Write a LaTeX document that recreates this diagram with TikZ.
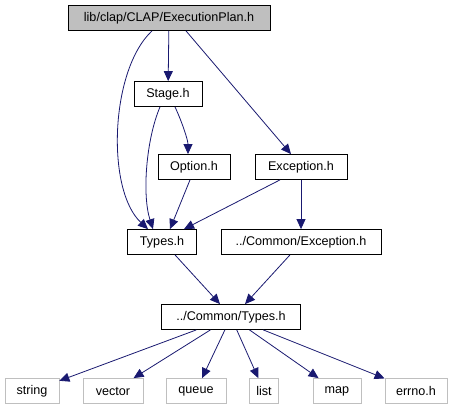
\documentclass[tikz,border=0pt]{standalone}
\usepackage{fontspec}
\setmainfont{Liberation Sans}
\usetikzlibrary{arrows.meta,positioning}
\definecolor{edge}{HTML}{191970}
\definecolor{boxgrey}{HTML}{BFBFBF}
\definecolor{sysline}{HTML}{BFBFBF}

\begin{document}
\begin{tikzpicture}[x=1pt,y=-1pt,
  file/.style={draw=black,line width=0.8pt,minimum height=25pt,inner sep=0pt,font=\fontsize{12.6}{14}\selectfont},
  sys/.style={file,draw=sysline},
  dep/.style={edge,line width=0.8pt,-{Triangle[length=10pt,width=9pt]}}]
  \useasboundingbox (0,0) rectangle (455,411);

  % project headers
  \node[file,fill=boxgrey,minimum width=202pt] (plan) at (169,18) {lib/clap/CLAP/ExecutionPlan.h};
  \node[file,minimum width=68pt] (stage) at (168,94) {Stage.h};
  \node[file,minimum width=72pt] (option) at (194,167) {Option.h};
  \node[file,minimum width=92pt] (exc) at (301,167) {Exception.h};
  \node[file,minimum width=69pt] (types) at (162,242) {Types.h};
  \node[file,minimum width=160pt] (cexc) at (301,242) {../Common/Exception.h};
  \node[file,minimum width=139pt] (ctypes) at (231,317) {../Common/Types.h};

  % system headers
  \foreach \n/\x/\w/\t in {string/32/54/string, vector/113/60/vector, queue/196/60/queue,
      list/264/29/list, map/337/48/map, errno/416/62/errno.h} {
    \node[sys,minimum width=\w pt] (\n) at (\x,391) {\t};
  }

  \draw[dep] (plan) -- (stage);
  \draw[dep] ([xshift=-17pt]plan.south) .. controls (110,70) and (106,190) .. ([xshift=-14pt]types.north);
  \draw[dep] ([xshift=17pt]plan.south) -- ([xshift=-10pt]exc.north);
  \draw[dep] ([xshift=-8pt]stage.south) .. controls (146,140) and (142,195) .. ([xshift=-9pt]types.north);
  \draw[dep] ([xshift=7pt]stage.south) .. controls (182,122) and (188,140) .. ([xshift=-6pt]option.north);
  \draw[dep] ([xshift=-4pt]option.south) -- ([xshift=8pt]types.north);
  \draw[dep] ([xshift=-21pt]exc.south) -- ([xshift=22pt]types.north);
  \draw[dep] (exc) -- (cexc);
  \draw[dep] ([xshift=13pt]types.south) -- ([xshift=-11pt]ctypes.north);
  \draw[dep] ([xshift=-11pt]cexc.south) -- ([xshift=14pt]ctypes.north);

  \foreach \n in {string,vector,queue,list,map,errno} {
    \draw[dep] (ctypes) -- (\n);
  }
\end{tikzpicture}
\end{document}
